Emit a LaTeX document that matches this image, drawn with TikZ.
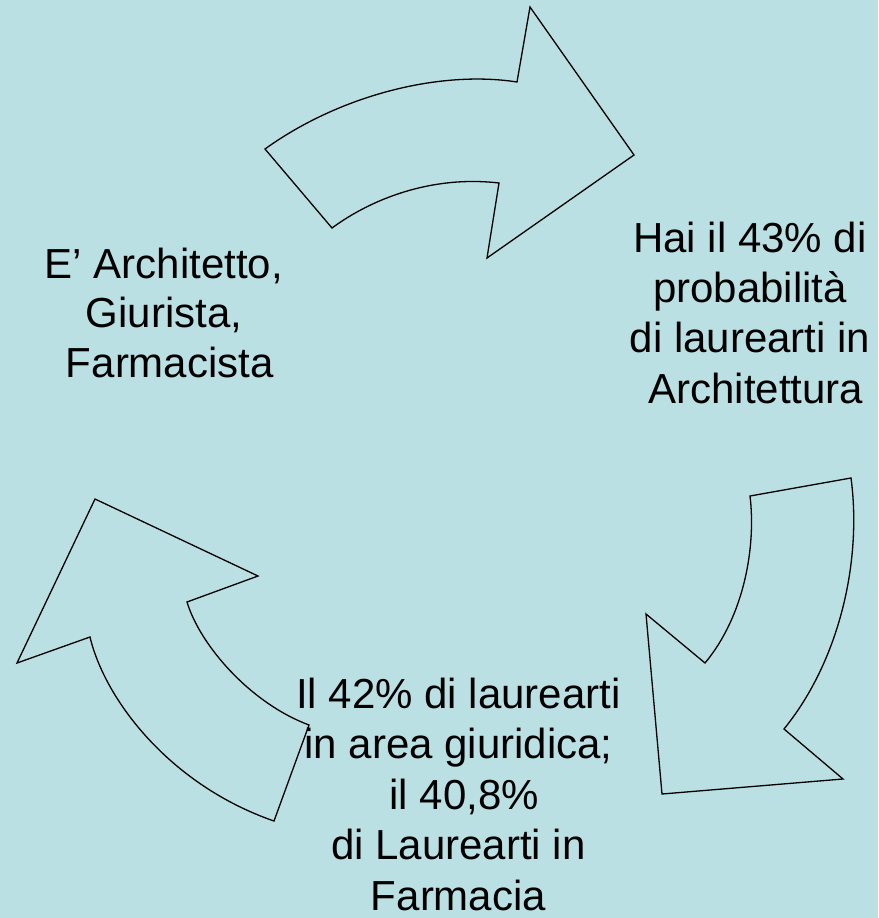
\documentclass[tikz,border=0pt]{standalone}
\usepackage{fontspec}
\setmainfont{Liberation Sans}
\definecolor{bgblue}{RGB}{187,224,227}
\begin{document}
\begin{tikzpicture}[x=1pt,y=-1pt,
  bigarrow/.style={draw=black,line width=1.3pt,line join=miter,fill=bgblue},
  label/.style={anchor=base,inner sep=0pt,align=center}]
\fill[bgblue] (0,0) rectangle (878,918);
\useasboundingbox (0,0) rectangle (878,918);
% top arrow
\draw[bigarrow] (265,149) .. controls (340,95) and (440,70) .. (517,82)
  -- (530,7) -- (634,155) -- (487,258) -- (499,183)
  .. controls (430,175) and (370,200) .. (332,228) -- cycle;
% right arrow
\draw[bigarrow] (750,496) -- (851,478)
  .. controls (862,560) and (840,660) .. (784,729)
  -- (843,779) -- (662,794) -- (646,614) -- (705,663)
  .. controls (745,615) and (756,545) .. cycle;
% left arrow
\draw[bigarrow] (95,499) -- (258,576) -- (187,602)
  .. controls (200,645) and (250,703) .. (309,725)
  -- (274,821)
  .. controls (170,785) and (105,700) .. (90,637)
  -- (17,663) -- cycle;
\node[label,font=\fontsize{42}{49.5}\selectfont] (lefttext) at (164,377) {E’ Architetto,\\Giurista,\\\hspace*{0.278em}Farmacista};
\node[label,font=\fontsize{42}{50.3}\selectfont] (righttext) at (750,403) {Hai il 43\% di\\probabilità\\di laurearti in\\\hspace*{0.278em}Architettura};
\node[label,font=\fontsize{42}{50.5}\selectfont] (bottomtext) at (458.5,910) {Il 42\% di laurearti\\in area giuridica;\\\hspace*{0.278em}il 40,8\%\\di Laurearti in\\Farmacia};
\end{tikzpicture}
\end{document}
